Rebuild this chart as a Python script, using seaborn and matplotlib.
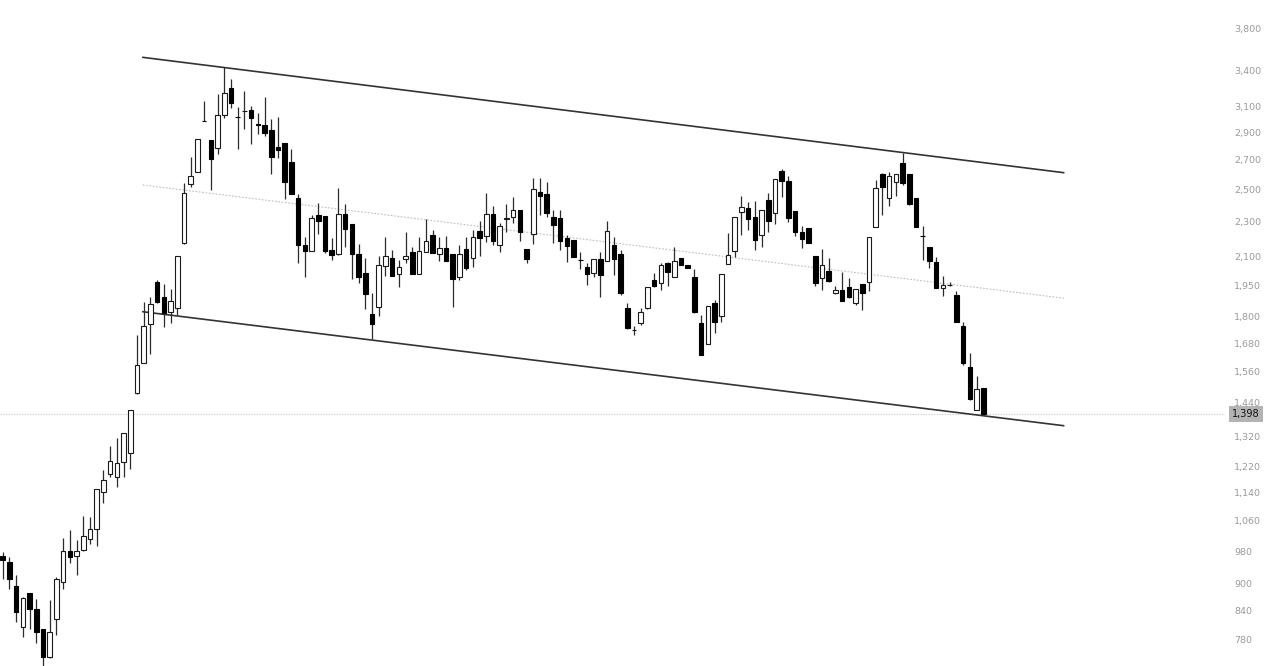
import numpy as np
import pandas as pd
import matplotlib
matplotlib.use("Agg")
import matplotlib.pyplot as plt
import matplotlib.transforms as mtransforms
from matplotlib.ticker import FixedLocator, FixedFormatter, NullLocator
import seaborn as sns

# ── Data (daily candles) ───────────────────────────────────────
opens = [968, 952, 896, 806, 878, 843, 800, 744, 821, 905,
         980, 968, 982, 1012, 1037, 1143, 1197, 1186, 1235, 1262,
         1475, 1596, 1765, 1966, 1891, 1822, 1838, 2175, 2537, 2615,
         2990, 2843, 2782, 3031, 3250, 3020, 3065, 3073, 2960, 2953,
         2918, 2790, 2823, 2683, 2444, 2166, 2134, 2339, 2335, 2138,
         2114, 2347, 2287, 2116, 2013, 1811, 1846, 2053, 2096, 2009,
         2090, 2125, 2009, 2128, 2221, 2114, 2147, 2116, 1995, 2143,
         2092, 2246, 2219, 2347, 2166, 2318, 2327, 2371, 2143, 2227,
         2487, 2472, 2327, 2321, 2204, 2194, 2085, 2044, 2012, 2087,
         2079, 2166, 2116, 1838, 1736, 1768, 1838, 1978, 1964, 2069,
         1995, 2094, 2055, 1995, 1768, 1676, 1865, 1803, 2062, 2134,
         2357, 2382, 2330, 2222, 2434, 2355, 2623, 2556, 2367, 2242,
         2265, 2105, 1987, 2025, 1911, 1927, 1941, 1865, 1958, 1969,
         2271, 2601, 2444, 2552, 2676, 2601, 2444, 2218, 2153, 2071,
         1939, 1951, 1903, 1756, 1577, 1412, 1494]
highs = [978, 966, 921, 871, 879, 865, 801, 863, 917, 1013,
         1035, 1008, 1074, 1071, 1151, 1209, 1286, 1314, 1330, 1413,
         1715, 1870, 1891, 1978, 1956, 1931, 2107, 2541, 2718, 2853,
         3145, 2844, 3200, 3432, 3327, 3094, 3230, 3105, 3051, 3176,
         3000, 3020, 2824, 2775, 2472, 2213, 2339, 2413, 2336, 2204,
         2508, 2407, 2288, 2171, 2096, 1911, 2105, 2213, 2138, 2083,
         2242, 2153, 2213, 2315, 2252, 2209, 2217, 2117, 2166, 2213,
         2252, 2305, 2476, 2396, 2295, 2409, 2455, 2372, 2144, 2574,
         2574, 2548, 2371, 2371, 2223, 2195, 2128, 2069, 2089, 2128,
         2306, 2213, 2138, 1862, 1756, 1841, 1944, 2016, 2069, 2070,
         2156, 2095, 2056, 2034, 1806, 1850, 1878, 2008, 2232, 2328,
         2461, 2423, 2429, 2372, 2480, 2568, 2635, 2590, 2368, 2275,
         2266, 2106, 2143, 2092, 1949, 2021, 1987, 1933, 1959, 2210,
         2563, 2612, 2619, 2602, 2751, 2602, 2446, 2275, 2154, 2101,
         2000, 1969, 1922, 1775, 1638, 1542, 1495]
lows = [911, 889, 816, 785, 800, 773, 728, 743, 788, 888,
        951, 921, 981, 998, 993, 1109, 1188, 1158, 1188, 1211,
        1474, 1595, 1633, 1862, 1753, 1771, 1806, 2174, 2515, 2614,
        2985, 2497, 2742, 3007, 3086, 2777, 2923, 2814, 2887, 2872,
        2603, 2711, 2440, 2471, 2065, 1995, 2133, 2228, 2123, 2083,
        2113, 2153, 1982, 1964, 1833, 1696, 1802, 1999, 1998, 1941,
        2065, 2008, 2008, 2127, 2122, 2078, 2078, 1846, 1978, 2030,
        2047, 2105, 2184, 2166, 2128, 2242, 2294, 2190, 2065, 2170,
        2341, 2330, 2175, 2138, 2074, 2097, 2035, 1952, 1995, 1891,
        2078, 2004, 1902, 1744, 1715, 1760, 1837, 1943, 1927, 1947,
        1994, 2055, 2038, 1818, 1627, 1675, 1725, 1775, 2061, 2101,
        2222, 2251, 2138, 2153, 2242, 2287, 2451, 2300, 2217, 2147,
        2175, 1947, 1927, 1970, 1910, 1874, 1890, 1854, 1830, 1922,
        2270, 2341, 2396, 2459, 2530, 2402, 2267, 2083, 2039, 1935,
        1898, 1950, 1774, 1587, 1451, 1411, 1395]
closes = [957, 912, 837, 868, 843, 794, 745, 795, 911, 980,
          966, 980, 1019, 1038, 1150, 1178, 1238, 1232, 1330, 1412,
          1588, 1756, 1859, 1867, 1817, 1872, 2106, 2476, 2592, 2852,
          2988, 2708, 3033, 3209, 3126, 3014, 3068, 3010, 2956, 2897,
          2718, 2772, 2552, 2472, 2166, 2134, 2323, 2305, 2134, 2109,
          2345, 2257, 2116, 1992, 1908, 1763, 2056, 2106, 1999, 2044,
          2105, 2009, 2132, 2190, 2123, 2147, 2079, 1982, 2116, 2042,
          2213, 2207, 2345, 2190, 2275, 2322, 2371, 2238, 2089, 2502,
          2461, 2351, 2281, 2190, 2162, 2098, 2082, 2009, 2088, 2004,
          2246, 2089, 1914, 1745, 1739, 1819, 1944, 1947, 2056, 2018,
          2078, 2056, 2039, 1819, 1629, 1849, 1775, 2007, 2110, 2327,
          2392, 2315, 2194, 2371, 2306, 2567, 2558, 2321, 2242, 2200,
          2175, 1964, 2056, 1974, 1927, 1875, 1891, 1932, 1914, 2209,
          2508, 2519, 2590, 2601, 2541, 2409, 2268, 2215, 2079, 1936,
          1952, 1953, 1775, 1594, 1452, 1490, 1398]

last_price = 1398

# descending channel: anchor points (candle index, price)
channel_x = [20.85, 158.0]
upper_line = [3522, 2612]
middle_line = [2530, 1887]
lower_line = [1822, 1356]

price_ticks = [3800, 3400, 3100, 2900, 2700, 2500, 2300, 2100, 1950, 1800,
               1680, 1560, 1440, 1320, 1220, 1140, 1060, 980, 900, 840, 780]
y_range = (727.6, 4086)

# ── Figure ────────────────────────────────────────────────────
sns.set_theme(style="white")
plt.rcParams['font.family'] = ['DejaVu Sans']

W, H = 1280, 666
fig = plt.figure(figsize=(W / 100, H / 100), dpi=100)
ax = fig.add_axes([0, 0, 1225 / W, 1])
ax.set_facecolor('white')

df = pd.DataFrame({'open': opens, 'high': highs, 'low': lows, 'close': closes})
df['idx'] = np.arange(len(df))
up = df['close'] >= df['open']

# wicks
ax.vlines(df['idx'], df['low'], df['high'], color='#2b2b2b', lw=0.9, zorder=2)

# bodies
body_bottom = df[['open', 'close']].min(axis=1)
body_height = (df['close'] - df['open']).abs()
ax.bar(df.loc[up, 'idx'], body_height[up], bottom=body_bottom[up], width=0.68,
       color='white', edgecolor='#1a1a1a', linewidth=0.8, zorder=3)
ax.bar(df.loc[~up, 'idx'], body_height[~up], bottom=body_bottom[~up], width=0.68,
       color='black', edgecolor='black', linewidth=0.8, zorder=3)

# channel lines
for vals, kw in [(upper_line, dict(color='#333333', lw=1.2)),
                 (lower_line, dict(color='#333333', lw=1.2)),
                 (middle_line, dict(color='#bdbdbd', lw=0.8, linestyle=(0, (1.5, 1.5))))]:
    sns.lineplot(x=channel_x, y=vals, ax=ax, zorder=1, **kw)

# last price dotted line
ax.axhline(last_price, color='#cfcfcf', lw=0.8, linestyle=(0, (1.2, 1.2)), zorder=0)

ax.set_yscale('log')
ax.set_ylim(*y_range)
ax.set_xlim(-0.4, 182.0)

ax.yaxis.tick_right()
ax.yaxis.set_major_locator(FixedLocator(price_ticks))
ax.yaxis.set_major_formatter(FixedFormatter([f'{v:,}' for v in price_ticks]))
ax.yaxis.set_minor_locator(NullLocator())
ax.tick_params(axis='y', length=0, pad=6.5, labelsize=6.8, labelcolor='#9a9a9a')
ax.xaxis.set_major_locator(NullLocator())
ax.set_xlabel('')
ax.set_ylabel('')
for s in ax.spines.values():
    s.set_visible(False)

# partly visible 720 label at the bottom edge
trans = mtransforms.blended_transform_factory(fig.transFigure, ax.transData)
ax.text(1234 / W, 720, '720', transform=trans, fontsize=6.8, color='#9a9a9a',
        ha='left', va='center', clip_on=False)

# last price tag
ax.text(1232 / W, last_price, f'{last_price:,}', transform=trans, fontsize=7,
        color='#111111', ha='left', va='center', zorder=5,
        bbox=dict(boxstyle='square,pad=0.3', facecolor='#b3b3b3', edgecolor='none'))

fig.savefig('out.png', dpi=100)
